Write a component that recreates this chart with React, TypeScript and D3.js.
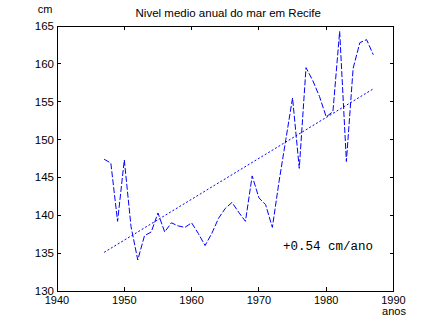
import React, { useEffect, useRef } from "react";
import * as d3 from "d3";

const years = [1947,1948,1949,1950,1951,1952,1953,1954,1955,1956,1957,1958,1959,1960,1961,1962,1963,1964,1965,1966,1967,1968,1969,1970,1971,1972,1973,1974,1975,1976,1977,1978,1979,1980,1981,1982,1983,1984,1985,1986,1987];
const levels = [147.4,146.9,139.2,147.3,138.5,134.1,137.3,137.8,140.3,137.8,139.0,138.6,138.4,139.0,137.6,136.0,137.6,139.6,140.9,141.7,140.4,139.2,145.2,142.3,141.4,138.4,144.5,150.0,155.5,146.2,159.5,157.8,155.7,153.0,153.7,164.3,147.1,159.4,162.8,163.2,161.2];
const trendYears = [1947, 1987];
const trendLevels = [135.1, 156.7];
const xTicks = [1940, 1950, 1960, 1970, 1980, 1990];
const yTicks = [130, 135, 140, 145, 150, 155, 160, 165];
const title = "Nivel medio anual do mar em Recife";
const yUnit = "cm";
const xUnit = "anos";
const trendLabel = "+0.54 cm/ano";

const W = 438, H = 328;
const L = 57, R = 393.5, T = 26, B = 291;

export default function App() {
  const ref = useRef<SVGSVGElement>(null);
  useEffect(() => {
    const svg = d3.select(ref.current);
    svg.selectAll("*").remove();
    const x = d3.scaleLinear().domain([1940, 1990]).range([L, R]);
    const y = d3.scaleLinear().domain([130, 165]).range([B, T]);
    const font = "'Liberation Sans', Arial, sans-serif";

    svg.append("rect").attr("width", W).attr("height", H).attr("fill", "#fff");

    // axes box
    svg.append("rect").attr("x", L).attr("y", T).attr("width", R - L).attr("height", B - T)
      .attr("fill", "none").attr("stroke", "#000").attr("stroke-width", 1).attr("shape-rendering", "crispEdges");

    const tl = 4;
    xTicks.forEach(t => {
      const xx = x(t);
      svg.append("line").attr("x1", xx).attr("x2", xx).attr("y1", B).attr("y2", B - tl).attr("stroke", "#000").attr("shape-rendering", "crispEdges");
      svg.append("line").attr("x1", xx).attr("x2", xx).attr("y1", T).attr("y2", T + tl).attr("stroke", "#000").attr("shape-rendering", "crispEdges");
      svg.append("text").attr("x", xx).attr("y", 304).attr("text-anchor", "middle")
        .attr("font-family", font).attr("font-size", 11).attr("fill", "#000").text(String(t));
    });
    yTicks.forEach(t => {
      const yy = y(t);
      svg.append("line").attr("x1", L).attr("x2", L + tl).attr("y1", yy).attr("y2", yy).attr("stroke", "#000").attr("shape-rendering", "crispEdges");
      svg.append("line").attr("x1", R).attr("x2", R - tl).attr("y1", yy).attr("y2", yy).attr("stroke", "#000").attr("shape-rendering", "crispEdges");
      svg.append("text").attr("x", 54).attr("y", yy + 4).attr("text-anchor", "end")
        .attr("font-family", font).attr("font-size", 11.5).attr("fill", "#000").text(String(t));
    });

    const line = d3.line<number>().x((d, i) => x(years[i])).y(d => y(d));
    svg.append("path").attr("d", line(levels)).attr("fill", "none").attr("stroke", "#0000ff")
      .attr("stroke-width", 1).attr("stroke-dasharray", "6,2");

    const tline = d3.line<number>().x((d, i) => x(trendYears[i])).y(d => y(d));
    svg.append("path").attr("d", tline(trendLevels)).attr("fill", "none").attr("stroke", "#0000ff")
      .attr("stroke-width", 1).attr("stroke-dasharray", "2,2");

    svg.append("text").attr("x", (L + R) / 2 + 3).attr("y", 16.5).attr("text-anchor", "middle")
      .attr("font-family", font).attr("font-size", 11.5).attr("fill", "#000").text(title);
    svg.append("text").attr("x", 45).attr("y", 13).attr("text-anchor", "middle")
      .attr("font-family", font).attr("font-size", 11).attr("fill", "#000").text(yUnit);
    svg.append("text").attr("x", 394).attr("y", 315).attr("text-anchor", "middle")
      .attr("font-family", font).attr("font-size", 11).attr("fill", "#000").text(xUnit);
    svg.append("text").attr("x", 283).attr("y", 250).attr("text-anchor", "start")
      .attr("font-family", "'Liberation Mono', 'DejaVu Sans Mono', monospace").attr("font-size", 12.5)
      .attr("fill", "#000").text(trendLabel);
  }, []);
  return <svg ref={ref} width={W} height={H} style={{ position: "absolute", left: 0, top: 0, display: "block" }} />;
}
